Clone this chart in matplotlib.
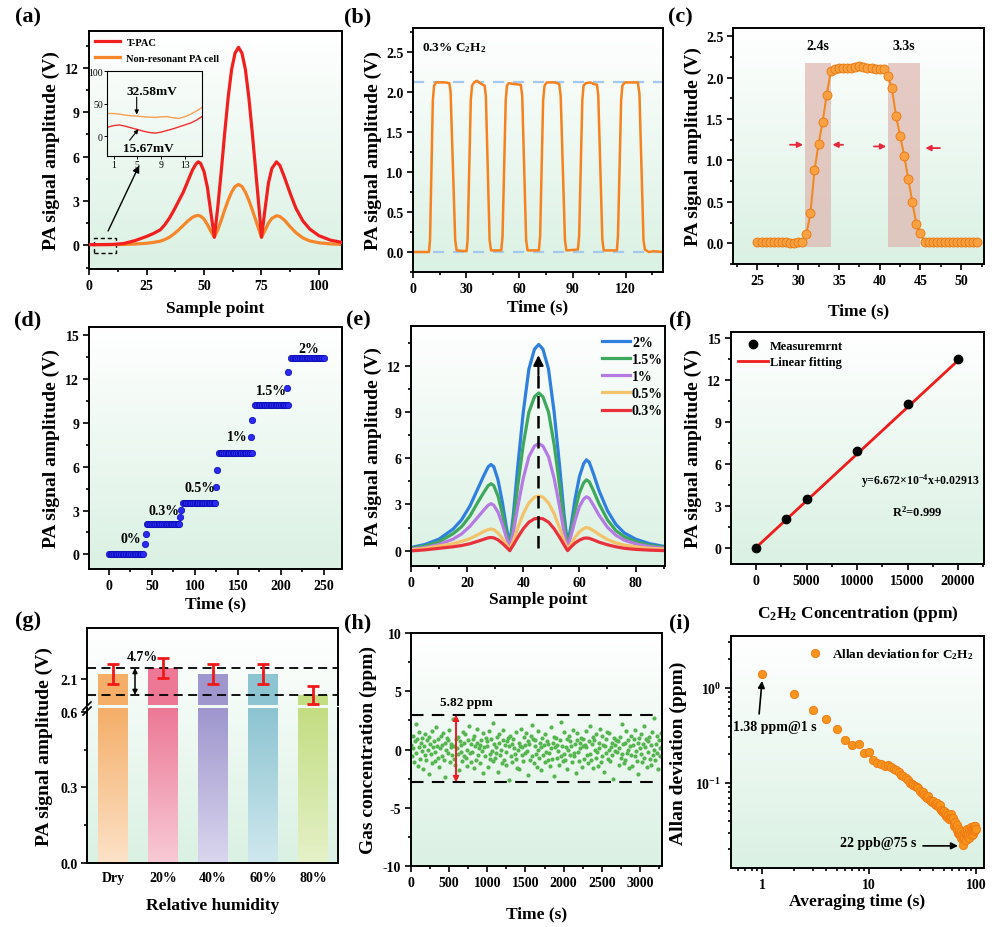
import numpy as np
import matplotlib
matplotlib.use("Agg")
import matplotlib.pyplot as plt
from matplotlib.colors import LinearSegmentedColormap
from matplotlib.lines import Line2D
from matplotlib.patches import Rectangle
from matplotlib.ticker import AutoMinorLocator, NullFormatter

plt.rcParams["font.family"] = ["Liberation Serif", "DejaVu Serif"]
plt.rcParams["font.weight"] = "bold"
plt.rcParams["axes.labelweight"] = "bold"
plt.rcParams["mathtext.fontset"] = "custom"
plt.rcParams["mathtext.rm"] = "Liberation Serif:bold"
plt.rcParams["mathtext.it"] = "Liberation Serif:italic:bold"
plt.rcParams["mathtext.bf"] = "Liberation Serif:bold"
plt.rcParams["mathtext.default"] = "bf"
plt.rcParams["axes.unicode_minus"] = False

# ---------------- values ----------------
# (a) PA signal vs sample point
a_x = [0, 5, 10, 15, 20, 25, 28, 31, 33, 35, 37, 39, 41, 43, 45, 46.5, 47.5, 48.5, 50, 51.5,
       53, 54.5, 56, 57.5, 59, 60.5, 62, 63.5, 65, 66.5, 68, 69.5, 71, 72.5, 74, 75, 76.5, 78, 79.5, 81.5,
       83, 85, 87.5, 90, 93, 96, 100, 105, 110]
a_tpac = [0.05, 0.05, 0.06, 0.12, 0.32, 0.6, 0.8, 1.05, 1.4, 1.85, 2.4, 3.0, 3.6, 4.35, 5.1, 5.5, 5.65, 5.55, 5.0, 3.9,
          2.2, 0.55, 2.6, 5.0, 7.6, 10.0, 11.9, 13.0, 13.4, 13.0, 11.9, 10.0, 7.6, 5.0, 2.4, 0.55, 2.4, 4.2, 5.2, 5.65,
          5.4, 4.6, 3.5, 2.5, 1.65, 1.1, 0.65, 0.35, 0.2]
a_nonres = [0.05, 0.05, 0.05, 0.06, 0.09, 0.14, 0.2, 0.28, 0.4, 0.55, 0.78, 1.05, 1.35, 1.65, 1.9, 2.0, 2.02, 1.98, 1.78, 1.4,
            0.95, 0.55, 1.05, 1.7, 2.4, 3.05, 3.6, 3.98, 4.12, 3.98, 3.6, 3.05, 2.4, 1.7, 1.0, 0.55, 1.0, 1.5, 1.82, 2.0,
            1.95, 1.7, 1.25, 0.85, 0.5, 0.3, 0.17, 0.1, 0.06]
# (a) inset, mV
ins_x = [0, 1, 2, 3, 4, 5, 6, 7, 8, 9, 10, 11, 12, 13, 14, 15, 16]
ins_tpac = [14, 16.5, 17.5, 15.5, 13, 10.6, 8, 6, 5, 6.5, 9, 11.5, 14.5, 17.5, 20.5, 25, 31]
ins_nonres = [35, 35, 34, 32.5, 31.5, 31, 30, 29.5, 29, 29.8, 30.3, 28.5, 27.5, 30, 34, 39, 45]

# (b) repeated 0.3% C2H2 response
b_t = [0, 9.0, 9.6, 11.2, 11.9, 13.0, 18.0, 20.5, 21.2, 23.8, 24.6,
       30.2, 30.8, 32.6, 33.3, 34.5, 36.0, 38.5, 40.4, 41.1, 43.2, 44.0,
       49.8, 50.5, 52.3, 53.0, 54.0, 57.0, 60.8, 61.6, 63.8, 64.6,
       71.0, 71.7, 73.4, 74.2, 75.5, 80.0, 82.5, 83.3, 85.7, 86.5,
       93.0, 93.7, 95.5, 96.2, 97.5, 100.0, 102.0, 103.8, 104.5, 106.8, 107.6,
       115.0, 115.6, 117.4, 118.1, 119.5, 126.8, 127.7, 130.0, 130.8, 133.0, 136.0, 141.0]
b_v = [0.0, 0.0, 0.15, 1.9, 2.08, 2.12, 2.12, 2.11, 2.0, 0.15, 0.02,
       0.01, 0.15, 1.9, 2.08, 2.12, 2.14, 2.1, 2.08, 1.95, 0.15, 0.02,
       0.02, 0.2, 1.9, 2.08, 2.11, 2.1, 2.09, 1.95, 0.15, 0.02,
       0.02, 0.2, 1.9, 2.08, 2.12, 2.12, 2.1, 1.95, 0.15, 0.02,
       0.03, 0.2, 1.9, 2.08, 2.11, 2.12, 2.1, 2.09, 1.95, 0.15, 0.02,
       0.02, 0.2, 1.9, 2.08, 2.12, 2.12, 1.98, 0.15, 0.03, 0.0, 0.01, 0.0]
b_levels = [2.12, 0.0]

# (c) one response cycle, sampled every 0.5 s from 25 s
c_t = np.arange(25.0, 52.01, 0.5)
c_v = [0.01, 0.01, 0.01, 0.01, 0.01, 0.01, 0.01, 0.01, 0.005, 0.005, 0.01, 0.01,
       0.11, 0.36, 0.88, 1.20, 1.47, 1.79, 2.08,
       2.11, 2.12, 2.12, 2.12, 2.12, 2.13, 2.14, 2.13, 2.12, 2.12, 2.11, 2.11, 2.11,
       2.02, 1.87, 1.54, 1.30, 1.06, 0.78, 0.50, 0.23, 0.12,
       0.01, 0.01, 0.01, 0.01, 0.01, 0.01, 0.01, 0.01, 0.01, 0.01, 0.01, 0.01, 0.01, 0.01]
c_regions = [(30.8, 34.0), (41.0, 44.9)]
c_region_labels = ["2.4s", "3.3s"]

# (d) staircase of concentrations
d_labels = ["0%", "0.3%", "0.5%", "1%", "1.5%", "2%"]
d_levels = [0.0, 2.1, 3.48, 6.92, 10.23, 13.45]
d_spans = [(0, 41), (44, 83), (86, 125), (128, 166), (170, 208), (212, 250)]
d_step_t = [42.3, 43.5, 82.7, 84.2, 125.0, 125.8, 165.8, 166.5, 207.3, 208.5]
d_step_v = [0.68, 1.37, 2.58, 3.04, 4.63, 5.78, 8.06, 9.18, 11.37, 12.49]

# (e) signals for different concentrations
e_x = [0, 5, 10, 15, 18, 21, 24, 26, 27.5, 28.5, 29.5, 31, 32.5, 34, 35.2, 36.5, 38, 40, 42, 44, 45.5,
       47, 49, 51, 53, 54.5, 55.8, 57, 58.5, 60, 61.5, 62.5, 63.5, 65, 67, 70, 73, 76, 80, 85, 90]
e_2 = [0.2, 0.4, 0.75, 1.4, 2.0, 2.9, 4.1, 4.9, 5.45, 5.6, 5.45, 4.6, 3.2, 1.5, 0.4, 2.4, 5.4, 9.0, 11.8, 13.1, 13.4,
       13.1, 11.8, 9.0, 5.4, 2.4, 0.4, 1.6, 3.4, 4.8, 5.65, 5.9, 5.75, 5.0, 3.9, 2.6, 1.7, 1.15, 0.75, 0.45, 0.28]
e_15 = [0.15, 0.3, 0.58, 1.1, 1.55, 2.25, 3.2, 3.8, 4.22, 4.35, 4.22, 3.55, 2.45, 1.15, 0.3, 1.85, 4.15, 6.9, 9.0, 10.0, 10.25,
        10.0, 9.0, 6.9, 4.15, 1.85, 0.3, 1.25, 2.65, 3.75, 4.4, 4.6, 4.48, 3.9, 3.05, 2.0, 1.3, 0.9, 0.58, 0.35, 0.22]
e_1 = [0.1, 0.2, 0.4, 0.75, 1.08, 1.58, 2.22, 2.65, 2.95, 3.05, 2.95, 2.5, 1.75, 0.85, 0.22, 1.25, 2.8, 4.7, 6.1, 6.8, 6.95,
       6.8, 6.1, 4.7, 2.8, 1.25, 0.22, 0.95, 2.0, 2.85, 3.35, 3.5, 3.4, 2.95, 2.3, 1.52, 1.0, 0.68, 0.44, 0.26, 0.16]
e_05 = [0.05, 0.15, 0.3, 0.45, 0.6, 0.78, 1.05, 1.25, 1.37, 1.4, 1.36, 1.15, 0.8, 0.4, 0.1, 0.65, 1.45, 2.4, 3.1, 3.48, 3.55,
        3.48, 3.1, 2.4, 1.45, 0.65, 0.1, 0.42, 0.88, 1.22, 1.43, 1.5, 1.46, 1.3, 1.05, 0.72, 0.5, 0.36, 0.25, 0.15, 0.1]
e_03 = [-0.02, 0.05, 0.15, 0.25, 0.33, 0.45, 0.62, 0.74, 0.83, 0.85, 0.83, 0.7, 0.48, 0.22, 0.0, 0.38, 0.85, 1.42, 1.85, 2.07, 2.1,
        2.07, 1.85, 1.42, 0.85, 0.38, 0.0, 0.24, 0.5, 0.68, 0.8, 0.82, 0.8, 0.7, 0.55, 0.38, 0.25, 0.15, 0.08, 0.03, 0.0]
e_labels = ["2%", "1.5%", "1%", "0.5%", "0.3%"]
e_colors = ["#2F80DE", "#3EA85C", "#B57BE3", "#F2C36A", "#E9313C"]

# (f) calibration
f_conc = [0, 3000, 5000, 10000, 15000, 20000]
f_amp = [0.0, 2.1, 3.48, 6.9, 10.25, 13.45]
f_fit_x = [0, 20000]
f_fit_y = [0.03, 13.37]

# (g) humidity influence
g_labels = ["Dry", "20%", "40%", "60%", "80%"]
g_vals = [2.118, 2.141, 2.118, 2.118, 2.041]
g_err = [0.037, 0.037, 0.037, 0.037, 0.035]
g_dark = ["#F4AE68", "#EC7896", "#9E96CD", "#8CC4D1", "#C3DD82"]
g_light = ["#FCE2C8", "#F8CAD6", "#DAD6EE", "#D0E8EE", "#E5F1C8"]

# (h) concentration noise at zero gas, one reading every 10 s
h_t = np.arange(0, 3300, 10)
h_conc = [
    0.4, -0.6, 1.2, 0.1, -1.1, 0.7, 2.2, -0.3, 0.9, -1.4,
    0.2, 1.5, -0.8, 0.6, -0.1, 1.0, -1.7, 0.3, 1.3, -0.5,
    -0.9, 0.8, 0.0, -2.1, 1.1, 0.5, -0.4, 1.6, -1.2, 0.2,
    0.7, -0.2, -1.0, 1.9, 0.3, -0.7, 0.9, -1.5, 0.1, 1.2,
    -0.6, 0.4, 1.4, -0.9, -2.4, 0.6, 0.0, 1.0, -0.3, 0.8,
    1.7, -1.1, 0.2, 0.5, -0.5, 2.6, -0.8, 0.3, -1.3, 0.9,
    0.1, -0.4, 1.1, -1.8, 0.7, 0.4, -0.2, -1.0, 1.5, -0.6,
    0.6, 1.3, -0.7, 0.0, -1.4, 0.8, 2.0, -0.3, 0.5, -1.1,
    -0.2, 0.9, -1.6, 1.2, 0.3, -0.9, 0.6, 1.8, -0.5, 0.1,
    -1.2, 0.4, 0.8, -0.1, 1.4, -2.0, 0.2, -0.6, 1.0, 0.7,
    0.3, -1.5, 1.6, -0.4, -0.8, 0.9, -0.1, 2.3, -1.0, 0.5,
    -0.7, 0.2, -0.3, 1.1, -1.9, 0.6, 1.3, -0.5, 0.0, -1.2,
    0.8, 1.7, -0.9, 0.4, -0.2, -1.3, 0.7, 1.0, -2.6, 0.3,
    1.2, -0.6, 0.5, -1.1, 0.9, 0.1, -0.4, 1.5, -0.8, -1.6,
    0.0, 0.6, -1.7, 0.3, 1.8, -0.5, 0.2, -1.0, 1.1, 0.4,
    -0.3, 1.4, -0.1, -2.2, 0.7, 0.5, -0.9, 1.2, -0.6, 2.1,
    0.9, -1.2, 0.3, 0.8, -0.4, -1.5, 1.6, 0.0, -0.7, 0.6,
    -1.8, 0.2, 1.0, -0.5, 0.4, 1.3, -1.1, -0.2, 0.7, -0.9,
    0.5, -0.3, -1.4, 1.9, 0.1, -0.8, 0.6, 1.1, -2.3, 0.2,
    1.0, -0.7, 0.4, -0.1, -1.3, 0.8, 2.4, -0.6, 0.3, -1.0,
    -0.4, 1.5, -0.9, 0.2, 0.9, -1.7, 0.0, 1.2, -0.5, 0.7,
    0.3, -1.1, 1.7, -0.3, -0.6, 0.5, -2.0, 0.8, 1.4, -0.2,
    -1.0, 0.6, 0.1, 1.0, -1.5, 0.3, 0.9, -0.8, 0.4, 1.6,
    0.2, -0.5, -1.2, 0.7, 2.0, -0.4, -0.9, 0.5, -1.6, 1.1,
    0.8, 0.0, -0.7, 1.3, -0.2, -1.4, 0.6, 0.1, 1.8, -1.1,
    -0.6, 1.2, 0.4, -1.9, 0.3, 0.9, -0.3, 1.5, -0.8, 0.0,
    1.4, -1.0, 0.2, 0.6, -0.5, -2.5, 1.0, 0.4, -0.1, 0.8,
    -0.2, 0.7, -1.3, 0.1, 1.1, -0.7, 2.2, -0.4, 0.5, -1.2,
    0.6, -0.9, 1.6, -0.3, 0.0, 0.8, -1.6, 0.3, 1.2, -0.5,
    -1.4, 0.4, 0.9, -0.6, 1.7, -0.1, -1.0, 0.6, -2.1, 1.0,
    0.1, 1.3, -0.4, -1.1, 0.5, 2.0, -0.7, 0.2, 0.9, -1.5,
    0.7, -0.2, 1.1, -0.8, -1.3, 0.4, 1.5, -0.5, 0.0, 2.7,
    -0.9, 0.5, -0.3, 1.2, -1.7, 0.8, 0.1, -0.6, 1.4, 0.3,
]
h_bounds = [3.0, -2.82]

# (i) Allan deviation, tau = 1..100 s
i_tau = np.arange(1, 101)
i_adev = [1.38, 0.86, 0.59, 0.47, 0.37, 0.285, 0.25, 0.255, 0.205, 0.21,
          0.172, 0.16, 0.158, 0.152, 0.153, 0.145, 0.14, 0.135, 0.13, 0.122,
          0.118, 0.112, 0.108, 0.1, 0.097, 0.094, 0.092, 0.091, 0.088, 0.082,
          0.078, 0.08, 0.074, 0.071, 0.069, 0.072, 0.066, 0.064, 0.063, 0.065,
          0.06, 0.058, 0.062, 0.057, 0.055, 0.058, 0.052, 0.05, 0.049, 0.051,
          0.047, 0.045, 0.048, 0.044, 0.046, 0.042, 0.044, 0.047, 0.043, 0.041,
          0.043, 0.038, 0.035, 0.039, 0.034, 0.032, 0.036, 0.03, 0.029, 0.033,
          0.028, 0.031, 0.026, 0.029, 0.022, 0.027, 0.03, 0.026, 0.031, 0.028,
          0.025, 0.029, 0.033, 0.027, 0.03, 0.026, 0.032, 0.029, 0.034, 0.031,
          0.028, 0.033, 0.029, 0.032, 0.035, 0.031, 0.034, 0.032, 0.035, 0.033]

# ---------------- figure helpers ----------------
W, H = 995, 928
fig = plt.figure(figsize=(W / 100, H / 100), dpi=100)

BG_CMAP = LinearSegmentedColormap.from_list("bg", ["#DAF1E3", "#FFFFFF"])
GRAD = np.linspace(0, 1, 256).reshape(-1, 1)
YL, XL, TK = 14, 12.5, 10


def px_rect(l, t, r, b):
    return [l / W, 1 - b / H, (r - l) / W, (b - t) / H]


def add_bg(rect):
    bg = fig.add_axes(rect, zorder=-10)
    bg.imshow(GRAD, cmap=BG_CMAP, aspect="auto", origin="lower", extent=[0, 1, 0, 1])
    bg.set_axis_off()


def style(ax, minor=True):
    ax.patch.set_visible(False)
    for s in ax.spines.values():
        s.set_linewidth(1.4)
    ax.tick_params(which="both", direction="out", top=False, right=False, width=1.2, labelsize=TK)
    ax.tick_params(which="major", length=4, pad=3)
    ax.tick_params(which="minor", length=2.5)
    if minor:
        ax.xaxis.set_minor_locator(AutoMinorLocator(2))
        ax.yaxis.set_minor_locator(AutoMinorLocator(2))


def panel(l, t, r, b, minor=True):
    rect = px_rect(l, t, r, b)
    add_bg(rect)
    ax = fig.add_axes(rect)
    style(ax, minor)
    return ax


def arrow(ax, xy, xytext, color="k", lw=1.2, scale=10, style_="-|>"):
    ax.annotate("", xy=xy, xytext=xytext,
                arrowprops=dict(arrowstyle=style_, color=color, lw=lw, mutation_scale=scale,
                                shrinkA=0, shrinkB=0))


def tag(x, y, s):
    fig.text(x / W, 1 - y / H, s, fontsize=16, ha="center", va="center")


# ---------------- (a) ----------------
ax = panel(89, 32, 342, 270)
ax.plot(a_x, a_tpac, color="#F21F1F", lw=2.3, label="T-PAC", zorder=3)
ax.plot(a_x, a_nonres, color="#F5862A", lw=2.3, label="Non-resonant PA cell", zorder=2)
ax.set_xlim(0, 110)
ax.set_ylim(-1.6, 14.5)
ax.set_xticks([0, 25, 50, 75, 100])
ax.set_yticks([0, 3, 6, 9, 12])
ax.set_xlabel("Sample point", fontsize=XL, labelpad=6)
ax.set_ylabel("PA signal amplitude (V)", fontsize=YL, labelpad=4)
ax.legend(loc="upper left", frameon=False, fontsize=7.5, handlelength=2.4, labelspacing=0.7,
          borderaxespad=0.2, handletextpad=0.6)
ax.add_patch(Rectangle((2.2, -0.5), 9.4, 1.02, fill=False, ec="k", lw=1, ls=(0, (3, 2))))
arrow(ax, (21.8, 5.4), (8.3, 0.97), lw=1)

ins = fig.add_axes(px_rect(107, 72, 202, 157))
ins.patch.set_visible(False)
ins.plot(ins_x, ins_nonres, color="#F5A050", lw=1)
ins.plot(ins_x, ins_tpac, color="#F03030", lw=1)
ins.set_xlim(-0.1, 15.9)
ins.set_ylim(-30, 100)
ins.set_xticks([1, 5, 9, 13])
ins.set_yticks([0, 50, 100])
ins.tick_params(labelsize=7, length=2, width=0.7, pad=1)
for lbl in ins.get_xticklabels() + ins.get_yticklabels():
    lbl.set_fontweight("normal")
for s in ins.spines.values():
    s.set_linewidth(0.8)
ins.text(7.4, 70, "32.58mV", ha="center", va="center", fontsize=9.5)
arrow(ins, (4.9, 33.5), (4.9, 60), lw=0.8, scale=6)
ins.text(6.8, -17, "15.67mV", ha="center", va="center", fontsize=9.5)
arrow(ins, (5.2, 11), (3.7, -6), lw=0.8, scale=6)
tag(28, 17, "(a)")

# ---------------- (b) ----------------
ax = panel(413, 29, 663, 273)
for lv in b_levels:
    ax.axhline(lv, color="#A4C8EE", lw=1.6, ls=(0, (5, 4)), zorder=1)
ax.plot(b_t, b_v, color="#F5821F", lw=1.8, zorder=2)
ax.set_xlim(0, 141)
ax.set_ylim(-0.25, 2.8)
ax.set_xticks([0, 30, 60, 90, 120])
ax.set_yticks([0.0, 0.5, 1.0, 1.5, 2.0, 2.5])
ax.set_xlabel("Time (s)", fontsize=XL, labelpad=3)
ax.set_ylabel("PA signal amplitude (V)", fontsize=YL, labelpad=3)
ax.text(0.036, 0.92, "0.3% C$_2$H$_2$", transform=ax.transAxes, fontsize=9.5, va="center")
tag(358, 17, "(b)")

# ---------------- (c) ----------------
ax = panel(733, 29, 984, 265)
for (x0, x1), lab in zip(c_regions, c_region_labels):
    ax.add_patch(Rectangle((x0, -0.05), x1 - x0, 2.23, fc="#DDB0A9", alpha=0.65, ec="none", zorder=1))
    ax.text((x0 + x1) / 2, 2.31, lab, ha="center", va="bottom", fontsize=10)
ax.plot(c_t, c_v, "-o", color="#F08A24", mfc="#F9A041", mec="#E8760F", mew=0.6, ms=6.5, lw=1.5, zorder=3)
for x0, x1, y in [(29.0, 30.6, 1.19), (35.5, 34.2, 1.19), (39.3, 40.8, 1.17), (47.4, 45.6, 1.15)]:
    arrow(ax, (x1, y), (x0, y), color="#E8283C", lw=1.3, scale=8)
ax.set_xlim(22.0, 52.8)
ax.set_ylim(-0.25, 2.6)
ax.set_xticks([25, 30, 35, 40, 45, 50])
ax.set_yticks([0.0, 0.5, 1.0, 1.5, 2.0, 2.5])
ax.set_xlabel("Time (s)", fontsize=XL, labelpad=11)
ax.set_ylabel("PA signal amplitude (V)", fontsize=YL, labelpad=3)
tag(680, 17, "(c)")

# ---------------- (d) ----------------
ax = panel(89, 328, 342, 570)
dot = dict(ls="none", marker="o", ms=4.6, mfc="#2A2AF2", mec="#0A0AB0", mew=0.5)
for lv, (s, e) in zip(d_levels, d_spans):
    t = np.arange(s, e + 0.1, 2.0)
    ax.plot(t, np.full(t.size, lv), **dot)
ax.plot(d_step_t, d_step_v, **dot)
for lab, (x, y) in zip(d_labels, [(26, 1.07), (64, 2.97), (105.6, 4.57), (149, 8.04), (189, 11.2), (231.8, 14.1)]):
    ax.text(x, y, lab, ha="center", va="center", fontsize=10)
ax.set_xlim(-23, 271)
ax.set_ylim(-1.0, 15.55)
ax.set_xticks([0, 50, 100, 150, 200, 250])
ax.set_yticks([0, 3, 6, 9, 12, 15])
ax.set_xlabel("Time (s)", fontsize=XL, labelpad=3)
ax.set_ylabel("PA signal amplitude (V)", fontsize=YL, labelpad=4)
tag(28, 320, "(d)")

# ---------------- (e) ----------------
ax = panel(411, 327, 665, 567)
for ys, lab, col in zip([e_2, e_15, e_1, e_05, e_03], e_labels, e_colors):
    ax.plot(e_x, ys, color=col, lw=2.3, label=lab)
ax.plot([45.4, 45.4], [0.2, 11.6], color="k", lw=1.8, ls=(0, (5, 3)))
arrow(ax, (45.4, 12.7), (45.4, 11.4), lw=1.5, scale=15)
ax.set_xlim(0, 90.5)
ax.set_ylim(-1.0, 14.6)
ax.set_xticks([0, 20, 40, 60, 80])
ax.set_yticks([0, 3, 6, 9, 12])
ax.set_xlabel("Sample point", fontsize=XL, labelpad=2)
ax.set_ylabel("PA signal amplitude (V)", fontsize=YL, labelpad=4)
ax.legend(loc="upper right", bbox_to_anchor=(1.03, 1.0), frameon=False, fontsize=10,
          handlelength=2.0, handletextpad=0.15, labelspacing=0.3, borderaxespad=0.3)
tag(358, 320, "(e)")

# ---------------- (f) ----------------
ax = panel(731, 333, 984, 565)
fit_line, = ax.plot(f_fit_x, f_fit_y, color="#EE1C1C", lw=2, zorder=2)
meas, = ax.plot(f_conc, f_amp, "o", color="k", ms=6, zorder=3)
ax.legend([meas, fit_line], ["Measuremrnt", "Linear fitting"], loc="upper left", frameon=False,
          fontsize=9, handlelength=2.4, handletextpad=0.1, labelspacing=0.35, borderaxespad=0.2)
ax.text(16300, 4.8, "y=6.672\u00d710$^{-4}$x+0.02913", ha="center", va="center", fontsize=8.5)
ax.text(16000, 2.6, "R$^2$=0.999", ha="center", va="center", fontsize=9)
ax.set_xlim(-2475, 22570)
ax.set_ylim(-1.14, 15.4)
ax.set_xticks([0, 5000, 10000, 15000, 20000])
ax.set_yticks([0, 3, 6, 9, 12, 15])
ax.set_xlabel("C$_2$H$_2$ Concentration (ppm)", fontsize=XL, labelpad=12)
ax.set_ylabel("PA signal amplitude (V)", fontsize=YL, labelpad=4)
tag(680, 320, "(f)")

# ---------------- (g) broken axis ----------------
add_bg(px_rect(87, 629, 338, 864))
up = fig.add_axes(px_rect(87, 629, 338, 706))
lo = fig.add_axes(px_rect(87, 709, 338, 864))
style(up, minor=False)
style(lo, minor=False)
xs = np.arange(len(g_labels))
up.bar(xs, g_vals, width=0.59, color=g_dark, zorder=1)
bars = lo.bar(xs, g_vals, width=0.59, color="none", zorder=1)
lo_top = 0.615
for bar, c0, c1 in zip(bars, g_light, g_dark):
    cm = LinearSegmentedColormap.from_list("bar", [c0, c1])
    x0 = bar.get_x()
    lo.imshow(GRAD, cmap=cm, aspect="auto", origin="lower",
              extent=[x0, x0 + bar.get_width(), 0, min(bar.get_height(), lo_top)], zorder=1)
up.errorbar(xs, g_vals, yerr=g_err, fmt="none", ecolor="#F01818", elinewidth=2, capsize=4, capthick=2, zorder=3)
for lv in [max(g_vals), min(g_vals)]:
    up.axhline(lv, color="k", lw=1.3, ls=(0, (5, 3)), zorder=2)
arrow(up, (0.44, min(g_vals)), (0.44, max(g_vals)), lw=1.1, scale=7, style_="<|-|>")
up.text(0.58, 2.185, "4.7%", ha="center", va="center", fontsize=10)
for a in (up, lo):
    a.set_xlim(-0.52, 4.5)
up.set_ylim(2.004, 2.289)
lo.set_ylim(0, lo_top)
up.set_yticks([2.1])
up.set_xticks([])
up.spines["bottom"].set_visible(False)
lo.spines["top"].set_visible(False)
lo.set_yticks([0.0, 0.3, 0.6])
lo.yaxis.set_minor_locator(AutoMinorLocator(2))
lo.set_xticks(xs)
lo.set_xticklabels(g_labels)
lo.tick_params(axis="x", length=0, pad=6)
lo.set_xlabel("Relative humidity", fontsize=XL, labelpad=9)
lo.set_ylabel("PA signal amplitude (V)", fontsize=YL)
lo.yaxis.set_label_coords(-0.135, 0.76)
for y0 in (711, 716):
    fig.add_artist(Line2D([83 / W, 91 / W], [1 - y0 / H, 1 - (y0 - 8) / H], color="k", lw=1.2))
tag(28, 621, "(g)")

# ---------------- (h) ----------------
ax = panel(411, 634, 662, 867)
ax.plot(h_t, h_conc, "o", ms=3.0, color="#55B54E", mec="none", zorder=2)
for lv in h_bounds:
    ax.axhline(lv, color="k", lw=1.5, ls=(0, (6, 4)), zorder=3)
arrow(ax, (590, h_bounds[0]), (590, h_bounds[1]), color="#EE1C25", lw=1.4, scale=8, style_="<|-|>")
ax.text(380, 4.1, "5.82 ppm", ha="left", va="center", fontsize=9.5)
ax.set_xlim(0, 3290)
ax.set_ylim(-10, 10)
ax.set_xticks([0, 500, 1000, 1500, 2000, 2500, 3000])
ax.set_yticks([-10, -5, 0, 5, 10])
ax.set_xlabel("Time (s)", fontsize=XL, labelpad=12)
ax.set_ylabel("Gas concentration (ppm)", fontsize=YL, labelpad=4)
tag(358, 623, "(h)")

# ---------------- (i) ----------------
ax = panel(731, 637, 984, 869, minor=False)
ax.set_xscale("log")
ax.set_yscale("log")
ax.plot(i_tau, i_adev, "o", ms=6, mfc="#F7941D", mec="#F07A12", mew=0.6, label="Allan deviation for C$_2$H$_2$")
ax.set_xlim(0.513, 119)
ax.set_ylim(0.0127, 3.5)
ax.set_xticks([1, 10, 100])
ax.set_xticklabels(["1", "10", "100"])
ax.set_yticks([0.1, 1])
ax.set_yticklabels(["10$^{-1}$", "10$^{0}$"])
ax.xaxis.set_minor_formatter(NullFormatter())
ax.yaxis.set_minor_formatter(NullFormatter())
ax.legend(loc="upper right", frameon=False, fontsize=9.5, handletextpad=0.3, borderaxespad=0.4)
arrow(ax, (1.0, 1.18), (0.94, 0.53))
ax.text(0.536, 0.39, "1.38 ppm@1 s", ha="left", va="center", fontsize=10)
arrow(ax, (68, 0.0217), (32, 0.0217))
ax.text(5.36, 0.0234, "22 ppb@75 s", ha="left", va="center", fontsize=10)
ax.set_xlabel("Averaging time (s)", fontsize=XL, labelpad=2)
ax.set_ylabel("Allan deviation (ppm)", fontsize=YL, labelpad=6)
tag(680, 623, "(i)")

fig.savefig("out.png", dpi=100)
